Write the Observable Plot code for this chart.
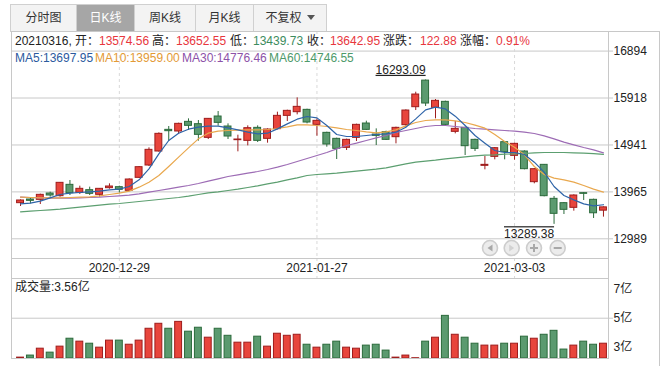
<!DOCTYPE html>
<html><head><meta charset="utf-8">
<script src="https://cdn.jsdelivr.net/npm/d3@7"></script>
<script src="https://cdn.jsdelivr.net/npm/@observablehq/plot@0.6"></script>
<style>
body{margin:0;background:#fff;font-family:"Liberation Sans","Noto Sans CJK SC",sans-serif;font-size:12px;color:#222}
#wrap{position:relative;width:669px;height:366px;overflow:hidden;background:#fff}
#wrap svg{position:absolute;left:0}
#tabs{position:absolute;left:10px;top:4px;width:317px;height:28px;box-sizing:border-box;background:#f3f3f3;border:1px solid #d0d0d0}
.tab{position:absolute;top:0;height:26px;line-height:26px;text-align:center;color:#333;font-size:12px;box-sizing:border-box;border-left:1px solid #d0d0d0}
.tab.first{border-left:none}
.tab.sel{background:#a6a6a6;color:#fff}
.tri{display:inline-block;width:0;height:0;border-left:4px solid transparent;border-right:4px solid transparent;border-top:5px solid #555;margin-left:5px;vertical-align:middle;position:relative;top:-1px}
#box{position:absolute;left:11px;top:31px;width:648px;height:340px;border-top:1px solid #c8c8c8;border-right:1px solid #c8c8c8}
.t{position:absolute;line-height:14px;white-space:nowrap;font-size:12px}
.k{color:#222}.r{color:#e8363d}.g{color:#3c8c5e}
</style></head>
<body>
<div id="wrap">
  <div id="box"></div>
  <div id="tabs">
    <div class="tab first" style="left:0;width:65px">分时图</div>
    <div class="tab sel" style="left:65px;width:58px">日K线</div>
    <div class="tab" style="left:123px;width:61px">周K线</div>
    <div class="tab" style="left:184px;width:58px">月K线</div>
    <div class="tab" style="left:242px;width:73px">不复权<span class="tri"></span></div>
  </div>
</div>
<script>
// ---------- data ----------
const dates = ["2020-12-15","2020-12-16","2020-12-17","2020-12-18","2020-12-21","2020-12-22","2020-12-23","2020-12-24","2020-12-25","2020-12-28","2020-12-29","2020-12-30","2020-12-31","2021-01-04","2021-01-05","2021-01-06","2021-01-07","2021-01-08","2021-01-11","2021-01-12","2021-01-13","2021-01-14","2021-01-15","2021-01-18","2021-01-19","2021-01-20","2021-01-21","2021-01-22","2021-01-25","2021-01-26","2021-01-27","2021-01-28","2021-01-29","2021-02-01","2021-02-02","2021-02-03","2021-02-04","2021-02-05","2021-02-08","2021-02-09","2021-02-10","2021-02-18","2021-02-19","2021-02-22","2021-02-23","2021-02-24","2021-02-25","2021-02-26","2021-03-01","2021-03-02","2021-03-03","2021-03-04","2021-03-05","2021-03-08","2021-03-09","2021-03-10","2021-03-11","2021-03-12","2021-03-15","2021-03-16"];
const opens = [13730.2,13806.5,13799.6,13931.3,13875.8,14111.6,13945.2,14000.6,13903.6,14042.2,14063.1,13986.8,14257.2,14513.7,14804.9,15255.5,15220.9,15421.9,15373.4,15089.1,15532.9,15324.9,15040.6,15026.7,15297.1,15068.4,15269.4,15546.7,15623.0,15671.5,15359.5,15193.1,15068.4,14881.2,15089.1,15387.3,15158.5,15207.0,15103.0,15352.6,15727.0,16280.0,15713.1,15837.9,15214.0,15297.1,15047.5,14506.8,14694.0,14998.9,14714.8,14804.9,14167.1,14527.6,13820.4,13730.2,13633.2,13938.3,13799.6,13574.56];
const highs = [13799.6,13827.4,13917.5,13959.1,14160.2,14201.7,14083.9,14063.1,14035.3,14132.4,14083.9,14236.4,14492.9,14881.2,15193.1,15324.9,15394.2,15484.3,15449.7,15491.3,15636.8,15380.4,15144.6,15338.7,15338.7,15276.3,15623.0,15664.6,15921.1,15685.4,15484.3,15207.0,15082.2,15061.4,15373.4,15435.8,15276.3,15227.8,15311.0,15671.5,16039.0,16293.09,15886.4,15851.8,15428.9,15311.0,15061.4,14700.9,14888.1,15012.9,14978.2,14818.8,14451.3,14534.5,13869.0,13744.1,13903.6,13952.1,13813.5,13652.55];
const lows = [13660.9,13716.4,13702.5,13855.1,13855.1,13889.7,13910.5,13889.7,13855.1,14021.5,13938.3,13979.9,14250.3,14492.9,14791.0,15012.9,15158.5,15241.7,15019.8,15054.5,15331.8,15054.5,14798.0,14922.7,14992.0,14978.2,15255.5,15428.9,15567.5,15380.4,15123.8,14895.0,14638.5,14825.7,15012.9,15241.7,14929.7,15033.7,14964.4,15311.0,15657.6,15740.8,15484.3,15345.7,15172.4,14721.7,14804.9,14423.6,14631.6,14631.6,14624.6,14423.6,14132.4,13862.0,13289.38,13494.5,13563.9,13785.7,13411.4,13439.73];
const closes = [13785.8,13778.8,13903.6,13889.7,14153.3,13938.3,14028.4,13924.4,14028.4,14076.9,14007.6,14222.5,14479.0,14839.6,15172.4,15227.8,15380.4,15338.7,15151.5,15484.3,15401.1,15116.9,15054.5,15290.2,15026.7,15262.4,15546.7,15650.7,15733.9,15408.1,15442.8,14950.5,14860.3,15047.5,15359.5,15255.5,15130.7,15047.5,15297.1,15657.6,15990.4,15803.2,15858.7,15359.5,15276.3,14915.8,14860.3,14527.6,14874.2,14791.0,14964.4,14437.4,14437.4,13875.8,13508.5,13591.5,13889.7,13924.4,13520.07,13642.95];
const ma5 = [13716.4,13730.2,13771.7,13841.2,13910.5,13938.3,13952.1,13966.0,13979.9,14007.6,14021.5,14077.0,14215.6,14444.4,14756.4,15033.7,15186.2,15269.4,15311.0,15331.8,15331.8,15297.1,15255.5,15207.0,15172.4,15186.2,15276.3,15380.4,15477.4,15532.9,15505.1,15345.7,15158.5,15116.9,15116.9,15137.7,15158.5,15172.4,15207.0,15311.0,15484.3,15671.5,15727.0,15690.0,15540.0,15345.7,15137.7,14978.2,14825.7,14784.1,14784.1,14742.5,14583.1,14375.1,14077.0,13889.7,13799.6,13716.4,13674.8,13697.95];
const ma10 = [13855.1,13848.2,13841.2,13841.2,13841.2,13848.2,13855.1,13862.0,13882.8,13910.5,13938.3,13979.9,14063.1,14167.1,14305.7,14492.9,14687.0,14881.2,15068.4,15186.2,15227.8,15241.7,15248.6,15255.5,15255.5,15262.4,15283.3,15317.9,15359.5,15359.5,15345.7,15324.9,15297.1,15262.4,15241.7,15214.0,15193.1,15214.0,15255.5,15338.7,15408.1,15449.7,15463.5,15463.5,15442.8,15408.1,15352.6,15290.2,15158.5,15013.0,14895.0,14735.6,14492.9,14326.5,14250.3,14215.6,14167.1,14097.7,14021.5,13959.00];
const ma30 = [13855.1,13848.2,13841.2,13834.3,13834.3,13834.3,13841.2,13848.2,13855.1,13868.9,13882.8,13896.7,13924.4,13959.1,13993.9,14028.4,14063.1,14097.7,14139.2,14187.9,14236.4,14284.9,14319.6,14354.3,14389.0,14430.5,14479.0,14534.5,14597.0,14659.3,14721.7,14784.1,14860.3,14929.7,14978.2,15033.7,15089.1,15137.7,15200.1,15241.7,15283.3,15324.9,15345.7,15345.7,15324.9,15304.1,15283.3,15269.4,15255.5,15241.7,15227.8,15207.0,15179.3,15130.7,15068.4,14999.0,14943.6,14888.1,14839.6,14776.46];
const ma60 = [13550.0,13563.9,13577.8,13591.6,13605.5,13626.3,13647.1,13667.8,13688.6,13709.4,13723.3,13744.1,13764.9,13785.7,13806.5,13827.4,13848.2,13875.8,13910.5,13945.2,13966.0,13993.7,14021.5,14056.1,14090.8,14132.4,14167.1,14215.6,14257.2,14305.7,14326.5,14340.4,14354.3,14375.1,14395.8,14416.6,14437.4,14465.2,14506.8,14548.4,14583.1,14603.8,14624.6,14652.4,14673.2,14694.0,14714.8,14728.6,14735.6,14749.4,14756.4,14763.3,14777.2,14784.1,14784.1,14784.1,14777.0,14770.0,14760.0,14746.55];
const volumes = [2.31,2.45,2.92,2.65,3.06,3.60,3.40,3.26,2.99,3.47,3.47,3.19,3.47,4.28,4.62,4.28,4.75,4.08,4.35,3.67,4.28,3.80,3.33,3.33,3.74,3.06,3.94,3.80,3.87,3.19,2.99,3.19,3.40,2.99,2.92,3.13,3.19,2.79,2.31,2.45,2.27,3.40,3.67,5.16,3.87,3.67,3.26,3.13,3.13,3.26,3.26,3.74,3.60,3.87,4.14,2.86,3.13,3.40,3.19,3.26];
const priceTicks = [12989, 13965, 14941, 15918, 16894];
const priceDomain = [12579.2, 17301.5];
const volTicks = [3, 5, 7];
const volGrid = [5];
const volDomain = [2.25, 7.71];
const dateTicks = ["2020-12-29", "2021-01-27", "2021-03-03"];

// ---------- styles ----------
const FONT = '"Liberation Sans", "Noto Sans CJK SC", sans-serif';
const GRID = "#c8c8c8";
const UP_FILL = "#e8453c", UP_LINE = "#9e1c1c", DN_FILL = "#5b9a6f", DN_LINE = "#2b6a3b";
const baseStyle = {fontFamily: FONT, fontSize: "12px", color: "#222", background: "transparent", overflow: "visible"};

const rows = dates.map((date, i) => ({
  date, open: opens[i], high: highs[i], low: lows[i], close: closes[i],
  ma5: ma5[i], ma10: ma10[i], ma30: ma30[i], ma60: ma60[i], vol: volumes[i],
  up: closes[i] >= opens[i]
}));
const hiIdx = d3.maxIndex(highs), loIdx = d3.minIndex(lows);
const hiText = highs[hiIdx].toFixed(2), loText = lows[loIdx].toFixed(2);

const xScale = () => ({type: "band", domain: dates, paddingInner: 0.2, paddingOuter: 0.11, insetLeft: 4, axis: null});
const W = 669, ML = 11, MR = 61;
const wrap = document.getElementById("wrap");

// ---------- main price panel ----------
const main = Plot.plot({
  width: W, height: 258, marginTop: 31, marginBottom: 0, marginLeft: ML, marginRight: MR,
  style: baseStyle,
  x: xScale(),
  y: {domain: priceDomain, axis: null},
  color: {type: "identity"},
  marks: [
    Plot.gridY(priceTicks, {stroke: GRID, strokeOpacity: 1}),
    Plot.ruleX(dateTicks, {stroke: "#d9d9d9", strokeDasharray: "3,3"}),
    Plot.axisY(priceTicks, {anchor: "right", tickSize: 4, tickPadding: 1, stroke: GRID, fill: "#222", tickFormat: d => String(d), label: null}),
    Plot.ruleX(rows, {x: "date", y1: "low", y2: "high", stroke: d => d.up ? UP_LINE : DN_LINE}),
    Plot.barY(rows, {x: "date", y1: "open", y2: "close", fill: d => d.up ? UP_FILL : DN_FILL, stroke: d => d.up ? UP_LINE : DN_LINE, insetLeft: 0.5, insetRight: 0.5}),
    Plot.line(rows, {x: "date", y: "ma60", stroke: "#5c9f70", strokeWidth: 1.2}),
    Plot.line(rows, {x: "date", y: "ma30", stroke: "#9d6cb5", strokeWidth: 1.2}),
    Plot.line(rows, {x: "date", y: "ma10", stroke: "#e9a84e", strokeWidth: 1.2}),
    Plot.line(rows, {x: "date", y: "ma5", stroke: "#2e64a8", strokeWidth: 1.2}),
    Plot.text([rows[hiIdx]], {x: "date", y: "high", text: () => hiText, textAnchor: "end", dy: -10, fill: "#222"}),
    Plot.text([rows[loIdx]], {x: "date", y: "low", text: () => loText, textAnchor: "end", dy: 10, fill: "#222"}),
    Plot.frame({stroke: GRID})
  ]
});
main.style.top = "0px";
d3.select(main).selectAll("text").each(function() {
  if (this.textContent === hiText) this.setAttribute("text-decoration", "underline");
  if (this.textContent === loText) this.setAttribute("text-decoration", "overline");
});
wrap.appendChild(main);

// ---------- date row ----------
const dateRow = Plot.plot({
  width: W, height: 20, marginTop: 0, marginBottom: 0, marginLeft: ML, marginRight: MR,
  style: baseStyle,
  x: xScale(),
  marks: [
    Plot.ruleX(dateTicks, {stroke: "#d9d9d9", strokeDasharray: "3,3"}),
    Plot.text(dateTicks, {x: d => d, text: d => d, frameAnchor: "middle", fill: "#222"}),
    Plot.frame({stroke: GRID})
  ]
});
dateRow.style.top = "258px";
wrap.appendChild(dateRow);

// ---------- volume panel ----------
const volPlot = Plot.plot({
  width: W, height: 88, marginTop: 0, marginBottom: 8, marginLeft: ML, marginRight: MR,
  style: baseStyle,
  x: xScale(),
  y: {domain: volDomain, axis: null},
  color: {type: "identity"},
  marks: [
    Plot.gridY(volGrid, {stroke: GRID, strokeOpacity: 1}),
    Plot.axisY(volGrid, {anchor: "right", tickSize: 4, stroke: GRID, fill: "none", label: null}),
    Plot.axisY(volTicks, {anchor: "right", tickSize: 0, tickPadding: 5, fill: "#222", tickFormat: d => d + "亿", label: null}),
    Plot.barY(rows, {x: "date", y1: () => volDomain[0], y2: "vol", fill: d => d.up ? UP_FILL : DN_FILL, stroke: d => d.up ? UP_LINE : DN_LINE, insetLeft: 0.5, insetRight: 0.5}),
    Plot.frame({stroke: GRID})
  ]
});
volPlot.style.top = "278px";
wrap.appendChild(volPlot);

// ---------- text overlays ----------
function addText(txt, cls, x, y) {
  const s = document.createElement("div");
  s.className = "t " + cls; s.textContent = txt;
  s.style.left = x + "px"; s.style.top = y + "px";
  wrap.appendChild(s);
}
addText("20210316, 开：", "k", 15, 34);
addText("13574.56", "r", 99, 34);
addText("高：", "k", 152, 34);
addText("13652.55", "r", 176, 34);
addText("低：", "k", 230, 34);
addText("13439.73", "g", 253, 34);
addText("收：", "k", 307, 34);
addText("13642.95", "r", 330, 34);
addText("涨跌：", "k", 383, 34);
addText("122.88", "r", 420, 34);
addText("涨幅：", "k", 460, 34);
addText("0.91%", "r", 496, 34);
const maRow = [["MA5:13697.95", "#2b5a9e", 15], ["MA10:13959.00", "#e39a35", 95], ["MA30:14776.46", "#8d52a8", 182], ["MA60:14746.55", "#4e9a6a", 269]];
maRow.forEach(([t, c, x]) => { addText(t, "", x, 51); wrap.lastChild.style.color = c; });
addText("成交量:3.56亿", "k", 15, 280);

// ---------- navigation buttons ----------
const nav = d3.create("svg").attr("width", 90).attr("height", 20)
  .style("left", "480px").style("top", "238px");
const cx = [10, 31.7, 54, 77.7];
nav.selectAll("circle").data(cx).join("circle")
  .attr("cx", d => d).attr("cy", 10).attr("r", 7.5)
  .attr("fill", "#ececec").attr("stroke", "#cdcdcd").attr("stroke-width", 1.6);
nav.append("path").attr("d", `M${cx[0]+2.5},6.5 L${cx[0]-2.5},10 L${cx[0]+2.5},13.5 Z`).attr("fill", "#a8a8a8");
nav.append("path").attr("d", `M${cx[1]-2.5},6.5 L${cx[1]+2.5},10 L${cx[1]-2.5},13.5 Z`).attr("fill", "#d2d2d2");
nav.append("path").attr("d", `M${cx[2]-4},10 H${cx[2]+4} M${cx[2]},6 V14`).attr("stroke", "#a8a8a8").attr("stroke-width", 2);
nav.append("path").attr("d", `M${cx[3]-4},10 H${cx[3]+4}`).attr("stroke", "#a8a8a8").attr("stroke-width", 2);
wrap.appendChild(nav.node());
</script>
</body></html>
